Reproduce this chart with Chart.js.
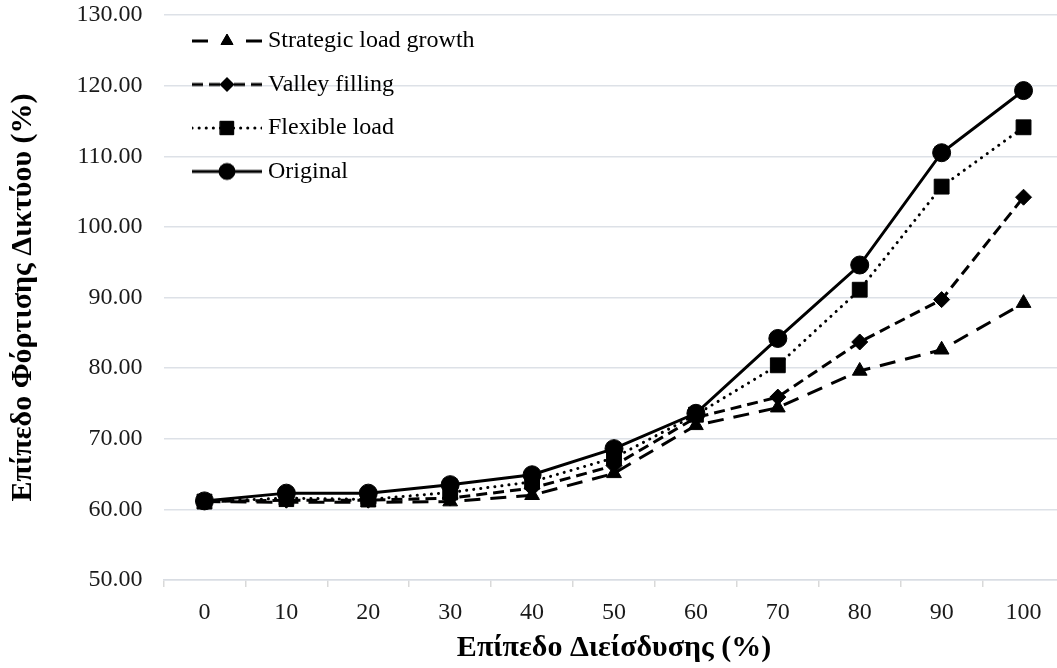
<!DOCTYPE html>
<html>
<head>
<meta charset="utf-8">
<script src="https://cdn.jsdelivr.net/npm/chart.js@4.4.0/dist/chart.umd.min.js"></script>
<style>
  html, body { margin: 0; padding: 0; background: #fff; overflow: hidden; }
  #wrap { position: relative; width: 1066px; height: 668px; }
</style>
</head>
<body>
<div id="wrap"><canvas id="c" width="1066" height="668"></canvas></div>
<script>
const categories = ['0', '10', '20', '30', '40', '50', '60', '70', '80', '90', '100'];
const strategicLoadGrowth = [61.1, 61.0, 61.0, 61.1, 62.0, 65.1, 71.9, 74.4, 79.6, 82.6, 89.2];
const valleyFilling       = [61.1, 61.3, 61.3, 61.6, 63.0, 66.2, 73.0, 75.9, 83.7, 89.7, 104.2];
const flexibleLoad        = [61.1, 61.6, 61.4, 62.4, 63.9, 67.3, 73.4, 80.4, 91.1, 105.7, 114.1];
const original            = [61.2, 62.3, 62.3, 63.5, 64.9, 68.6, 73.6, 84.2, 94.6, 110.5, 119.3];
const seriesNames = ['Strategic load growth', 'Valley filling', 'Flexible load', 'Original'];
const yTicks = [50, 60, 70, 80, 90, 100, 110, 120, 130];

const FONT = "'Liberation Serif', 'Times New Roman', Times, serif";
Chart.defaults.font.family = FONT;
Chart.defaults.color = '#000';

const styles = [
  { dash: [16, 10], cap: 'butt', point: 'triangle', r: 8.5, lr: 7, gap: 10 },
  { dash: [11, 6], cap: 'butt', point: 'rectRot', r: 8, lr: 7, gap: 6 },
  { dash: [0.1, 7], cap: 'round', point: 'rect', r: 10.5, lr: 9.5, gap: 6 },
  { dash: [], cap: 'butt', point: 'circle', r: 9, lr: 8, gap: 6 }
];
const seriesData = [strategicLoadGrowth, valleyFilling, flexibleLoad, original];

const datasets = seriesData.map((d, i) => ({
  label: seriesNames[i],
  data: d,
  borderColor: '#000',
  backgroundColor: '#000',
  borderWidth: 3,
  borderDash: styles[i].dash,
  borderCapStyle: styles[i].cap,
  pointStyle: styles[i].point,
  pointRadius: styles[i].r,
  pointHoverRadius: styles[i].r,
  pointBackgroundColor: '#000',
  pointBorderColor: '#000',
  pointBorderWidth: 1,
  tension: 0,
  fill: false,
  order: 3 - i
}));

function drawMarker(ctx, style, radius, x, y) {
  if (Chart.helpers && Chart.helpers.drawPoint) {
    Chart.helpers.drawPoint(ctx, { pointStyle: style, radius: radius, rotation: 0, borderWidth: 1 }, x, y);
    ctx.fill();
  }
}

function legendImage(i) {
  const W = 70, H = 26, cx = 35, cy = 13;
  const cv = document.createElement('canvas');
  cv.width = W; cv.height = H;
  const ctx = cv.getContext('2d');
  ctx.strokeStyle = '#000';
  ctx.fillStyle = '#000';
  ctx.lineWidth = 3;
  ctx.lineCap = styles[i].cap;
  ctx.setLineDash(styles[i].dash);
  const g = styles[i].gap;
  ctx.beginPath(); ctx.moveTo(0, cy); ctx.lineTo(cx - g, cy); ctx.stroke();
  ctx.beginPath(); ctx.moveTo(W, cy); ctx.lineTo(cx + g, cy); ctx.stroke();
  ctx.setLineDash([]);
  ctx.lineWidth = 1;
  drawMarker(ctx, styles[i].point, styles[i].lr, cx, cy);
  return cv;
}
const legendImages = seriesNames.map((n, i) => legendImage(i));

const legendPlacer = {
  id: 'legendPlacer',
  afterLayout(chart) {
    if (chart.legend) {
      chart.legend.left = 178.5;
      chart.legend.top = 9.5;
    }
  }
};

new Chart(document.getElementById('c'), {
  type: 'line',
  data: { labels: categories, datasets: datasets },
  plugins: [legendPlacer],
  options: {
    responsive: false,
    animation: false,
    events: [],
    layout: { autoPadding: false, padding: { top: 15, right: 1.5, bottom: 0, left: 0 } },
    plugins: {
      tooltip: { enabled: false },
      legend: {
        position: 'chartArea',
        fullSize: false,
        align: 'start',
        labels: {
          usePointStyle: true,
          pointStyleWidth: 58,
          boxHeight: 22,
          padding: 19.5,
          color: '#000',
          font: { size: 24, family: FONT },
          generateLabels: (chart) => seriesNames.map((n, i) => ({
            text: n,
            pointStyle: legendImages[i],
            fillStyle: '#000',
            strokeStyle: '#000',
            lineWidth: 0,
            hidden: false,
            datasetIndex: i,
            fontColor: '#000'
          }))
        }
      }
    },
    scales: {
      x: {
        type: 'category',
        offset: true,
        grid: {
          offset: true,
          drawOnChartArea: false,
          drawTicks: true,
          tickLength: 7,
          tickColor: '#d9d9d9',
          lineWidth: 1.5
        },
        border: { display: true, color: '#d9dde3', width: 1.5 },
        ticks: { color: '#1a1a1a', font: { size: 24 }, padding: 11, maxRotation: 0, autoSkip: false },
        title: {
          display: true,
          text: 'Επίπεδο Διείσδυσης (%)',
          color: '#000',
          font: { size: 30, weight: 'bold', family: FONT },
          padding: { top: 0, bottom: 2 }
        },
        afterFit: (s) => { s.height = 88; }
      },
      y: {
        min: yTicks[0],
        max: yTicks[yTicks.length - 1],
        afterBuildTicks: (s) => { s.ticks = yTicks.map(v => ({ value: v })); },
        grid: { color: '#dde1e7', lineWidth: 1.5, drawTicks: false },
        border: { display: false },
        ticks: {
          color: '#1a1a1a',
          font: { size: 24 },
          padding: 21,
          callback: (v) => Number(v).toFixed(2)
        },
        title: {
          display: true,
          text: 'Επίπεδο Φόρτισης Δικτύου (%)',
          color: '#000',
          font: { size: 30, weight: 'bold', family: FONT },
          padding: { top: 5, bottom: 0 }
        },
        afterFit: (s) => { s.width = 163.5; s.paddingTop = 0; s.paddingBottom = 0; }
      }
    }
  }
});
</script>
</body>
</html>
